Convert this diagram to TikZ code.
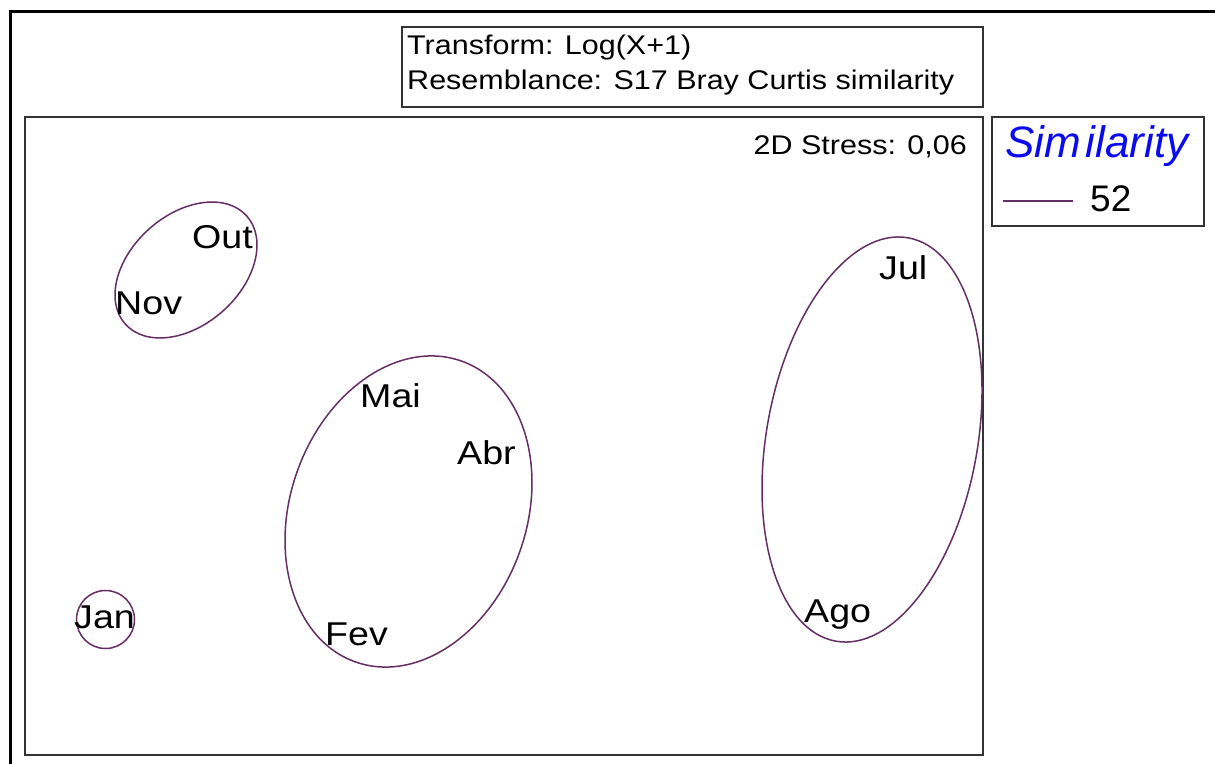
\documentclass[tikz,border=0pt]{standalone}
\usepackage{fontspec}
\setmainfont{Liberation Sans}
\definecolor{clus}{RGB}{100,45,100}
\definecolor{simblue}{RGB}{10,10,240}
\begin{document}
\begin{tikzpicture}[x=1pt,y=-1pt,
  outerframe/.style={draw=black, line width=3pt},
  boxframe/.style={draw=black!80, line width=1.6pt},
  cluster/.style={draw=clus, line width=1.5pt},
  lab/.style={anchor=base west, inner sep=0pt, font=\fontsize{33}{33}\selectfont, xscale=1.14},
  small/.style={inner sep=0pt, font=\fontsize{27}{27}\selectfont, xscale=1.13}]
\useasboundingbox (0,0) rectangle (1215,763);
% outer frame (clipped)
\begin{scope}
\clip (0,0) rectangle (1215,763);
\draw[outerframe] (10,800) -- (10,11) -- (1250,11);
\end{scope}
% boxes
\draw[boxframe] (402,27) rectangle (983,107);
\draw[boxframe] (25,117) rectangle (983,755);
\draw[boxframe] (992,117) rectangle (1204,226);
% title texts
\node[small, anchor=base west] (t1) at (407,54) {Transform: Log(X+1)};
\node[small, anchor=base west] (t2) at (407,89) {Resemblance: S17 Bray Curtis similarity};
\node[small, anchor=base east] (stress) at (967,154) {2D Stress: 0,06};
% legend
\node[anchor=base west, inner sep=0pt, text=simblue, font=\fontsize{44}{44}\selectfont\itshape] (simlab) at (1005,157) {Sim\kern5pt ilarity};
\coordinate (l1) at (1003,201);
\coordinate (l2) at (1073,201);
\draw[cluster] (l1) -- (l2);
\node[anchor=base west, inner sep=0pt, font=\fontsize{37}{37}\selectfont] (v52) at (1090,211) {52};
% clusters
\draw[cluster, rotate around={41.6:(186,270)}] (186,270) ellipse [x radius=81.3, y radius=55.2];
\draw[cluster] (105.5,619.5) circle [radius=29];
\draw[cluster, rotate around={70.7:(408.5,511.5)}] (408.5,511.5) ellipse [x radius=159.5, y radius=118.3];
\draw[cluster, rotate around={79.8:(872,439.5)}] (872,439.5) ellipse [x radius=204.9, y radius=105.5];
% labels
\node[lab] (out) at (192,248) {Out};
\node[lab] (nov) at (115,314) {Nov};
\node[lab] (mai) at (360,407) {Mai};
\node[lab] (abr) at (457,464) {Abr};
\node[lab] (fev) at (325,645) {Fev};
\node[lab] (jan) at (74,628) {Jan};
\node[lab] (jul) at (879,279) {Jul};
\node[lab] (ago) at (804,622) {Ago};
\end{tikzpicture}
\end{document}
